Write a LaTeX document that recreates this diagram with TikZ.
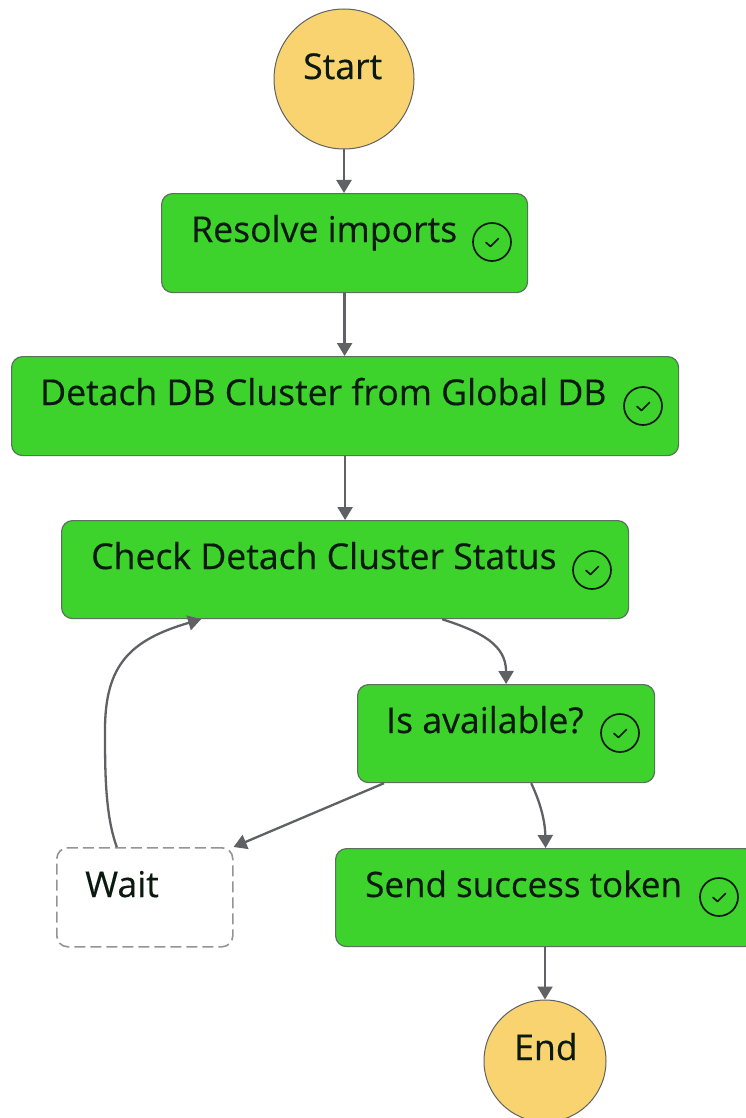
\documentclass[tikz,border=0pt]{standalone}
\usepackage{fontspec}
\setmainfont[FakeBold=0.35]{Open Sans}
\usetikzlibrary{arrows.meta,calc}
\definecolor{okgreen}{HTML}{3DD22C}
\definecolor{edgegrey}{HTML}{5F6164}
\definecolor{terminal}{HTML}{F8D36F}
\definecolor{inktext}{HTML}{0B1A10}
\tikzset{
  x=1pt,y=-1pt,
  statebox/.style={draw=edgegrey!85!okgreen,line width=1.2pt,fill=okgreen,rounded corners=11pt,inner sep=0pt,anchor=north west},
  terminalnode/.style={circle,draw=edgegrey,line width=1pt,fill=terminal,inner sep=0pt},
  waitbox/.style={draw=black!42,line width=1.6pt,dash pattern=on 11pt off 5pt,fill=white,rounded corners=11pt,inner sep=0pt,anchor=north west},
  label/.style={font=\fontsize{35.6}{36}\selectfont,text=inktext,inner sep=0pt,anchor=base west},
  okring/.style={circle,draw=inktext,line width=1.7pt,minimum size=38pt,inner sep=0pt},
  flow/.style={draw=edgegrey,line width=2.3pt,-{Triangle[length=13pt,width=15pt]}},
  tick/.style={draw=inktext,line width=1.7pt,line cap=round,line join=round}
}
\newcommand{\okmark}[2]{%
  \node[okring] (#1) at (#2) {};
  \draw[tick] ($(#1.center)+(-6,0.5)$) -- ($(#1.center)+(-1.5,4.5)$) -- ($(#1.center)+(6.5,-3.5)$);
}
\begin{document}
\begin{tikzpicture}
\useasboundingbox (0,0) rectangle (746,1118);
\clip (0,0) rectangle (746,1118);
\fill[white] (0,0) rectangle (746,1118);
% nodes
\node[terminalnode,minimum size=140pt] (start) at (344,79) {};
\node[statebox,minimum width=366pt,minimum height=99pt] (resolve) at (161,193) {};
\node[statebox,minimum width=667pt,minimum height=99pt] (detach) at (11,356) {};
\node[statebox,minimum width=567pt,minimum height=98pt] (check) at (61,520) {};
\node[statebox,minimum width=297pt,minimum height=98pt] (avail) at (357,684) {};
\node[statebox,minimum width=420pt,minimum height=98pt] (send) at (335,848) {};
\node[waitbox,minimum width=176pt,minimum height=99pt] (wait) at (56,847) {};
\node[terminalnode,minimum size=122pt] (end) at (545,1061) {};
% labels
\node[label] (tstart) at (303,79) {Start};
\node[label] (tresolve) at (191,242) {Resolve imports};
\node[label] (tdetach) at (40,405) {Detach DB Cluster from Global DB};
\node[label] (tcheck) at (91,569) {Check Detach Cluster Status};
\node[label] (tavail) at (386,733) {Is available?};
\node[label,font=\fontsize{35}{36}\selectfont] (tsend) at (365,897) {Send success token};
\node[label] (twait) at (85,897) {Wait};
\node[label] (tend) at (514,1060) {End};
% status icons
\okmark{iresolve}{492,242}
\okmark{idetach}{643,406}
\okmark{icheck}{592,570}
\okmark{iavail}{620,733}
\okmark{isend}{719,897}
% connectors
\draw[flow] (start.south) -- (start.south |- resolve.north);
\draw[flow] (resolve.south) -- (resolve.south |- detach.north);
\draw[flow] (detach.south) -- (detach.south |- check.north);
\draw[flow] ([xshift=97pt]check.south) .. controls (482,632) and (506,645) .. (avail.north);
\draw[flow] ([xshift=-124pt]avail.south east) .. controls (540,802) and (545,820) .. (send.north);
\draw[flow] ([xshift=27pt]avail.south west) -- (wait.north east);
\draw[flow] ([xshift=-28pt]wait.north) .. controls (105,815) and (105,770) .. (105,730) .. controls (105,665) and (130,640) .. ([xshift=-144pt]check.south);
\draw[flow] (end.north |- send.south) -- (end.north);
\end{tikzpicture}
\end{document}
